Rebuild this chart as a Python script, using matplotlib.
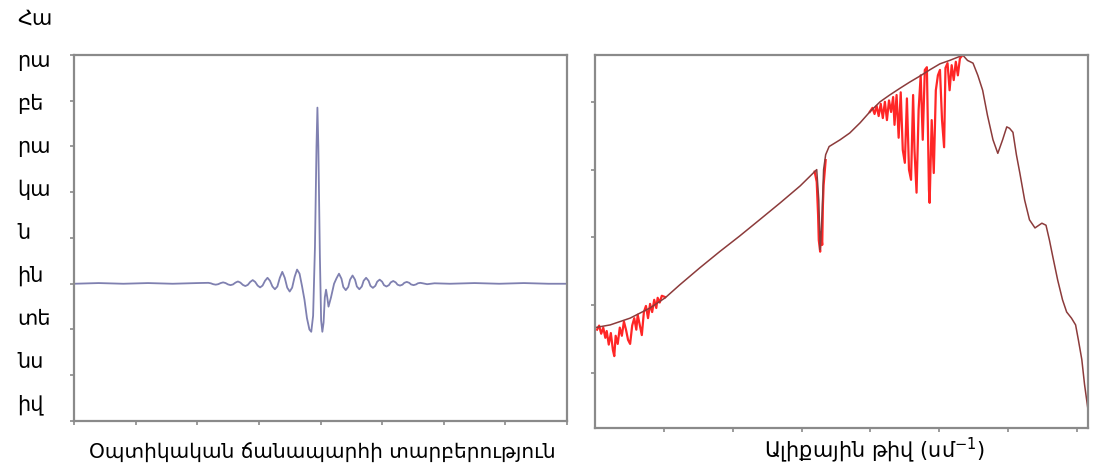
import matplotlib
matplotlib.use("Agg")
import matplotlib.pyplot as plt

plt.rcParams['font.family'] = ['DejaVu Sans']

# ---- Left panel: interferogram ----
interf_x = [0, 0.4, 0.8, 1.2, 1.6, 2.0,
            2.18, 2.22, 2.26, 2.30, 2.34, 2.38, 2.42, 2.46, 2.50, 2.54, 2.58, 2.62, 2.66, 2.70,
            2.74, 2.78, 2.82, 2.86, 2.90, 2.94, 2.98, 3.02, 3.06, 3.10, 3.14, 3.18, 3.22, 3.26,
            3.30, 3.34, 3.38, 3.42, 3.46, 3.50, 3.54, 3.58, 3.62,
            3.66, 3.70, 3.74, 3.78, 3.82, 3.85, 3.88, 3.91, 3.935, 3.95, 3.965, 3.99, 4.01, 4.03,
            4.05, 4.07, 4.09, 4.11, 4.13,
            4.17, 4.22, 4.26, 4.30, 4.34, 4.37, 4.41, 4.45, 4.48, 4.52, 4.56, 4.59, 4.63, 4.67,
            4.70, 4.74, 4.78, 4.81, 4.85, 4.89, 4.92, 4.96, 5.00, 5.03, 5.07, 5.11, 5.14, 5.18,
            5.22, 5.25, 5.29, 5.33, 5.36, 5.40, 5.44, 5.47, 5.51, 5.55, 5.58, 5.62, 5.66, 5.73,
            5.85, 6.1, 6.5, 6.9, 7.3, 7.7, 8.0]
interf_y = [0, 0.015, 0, 0.015, 0, 0.015,
            0.02, 0.01, -0.01, -0.02, -0.01, 0.015, 0.03, 0.015, -0.015, -0.03, -0.015, 0.025, 0.05, 0.025,
            -0.025, -0.05, -0.025, 0.04, 0.08, 0.04, -0.04, -0.08, -0.04, 0.065, 0.13, 0.065, -0.06, -0.12,
            -0.06, 0.13, 0.26, 0.13, -0.085, -0.17, -0.085, 0.15, 0.31,
            0.22, -0.05, -0.35, -0.75, -1.0, -1.05, -0.7, 0.8, 3.0, 3.85, 3.0, 0.6, -0.8, -1.05,
            -0.85, -0.3, -0.13, -0.3, -0.50,
            -0.30, 0.0, 0.12, 0.22, 0.11, -0.07, -0.14, -0.07, 0.09, 0.18, 0.09, -0.06, -0.12, -0.06,
            0.065, 0.13, 0.065, -0.045, -0.09, -0.045, 0.045, 0.09, 0.045, -0.03, -0.06, -0.03, 0.03, 0.06,
            0.03, -0.02, -0.04, -0.02, 0.02, 0.04, 0.02, -0.015, -0.03, -0.015, 0.01, 0.02, 0.01, -0.01,
            0.01, 0, 0.015, 0, 0.015, 0, 0]

# ---- Right panel: spectrum (smooth envelope) ----
spec_x = [0, 0.22, 0.51, 0.80, 1.02, 1.23, 1.52, 1.81, 2.10, 2.39, 2.69, 2.98, 3.19, 3.22, 3.25,
          3.27, 3.28, 3.30, 3.32, 3.35, 3.40, 3.56, 3.70, 3.85, 3.99, 4.14, 4.28, 4.43, 4.57, 4.72,
          4.86, 5.01, 5.15, 5.30, 5.34, 5.41, 5.49, 5.56, 5.63, 5.70, 5.78, 5.85, 5.92, 5.98, 6.02,
          6.07, 6.12, 6.17, 6.24, 6.31, 6.39, 6.49, 6.55, 6.60, 6.65, 6.72, 6.79, 6.85, 6.92, 6.98,
          7.02, 7.07, 7.11, 7.16]
spec_y = [0.67, 0.71, 0.81, 0.96, 1.11, 1.30, 1.55, 1.79, 2.02, 2.26, 2.51, 2.76, 2.97, 3.00, 2.55,
          1.82, 1.96, 2.40, 3.00, 3.22, 3.34, 3.44, 3.54, 3.69, 3.85, 4.00, 4.10, 4.20, 4.29, 4.38,
          4.47, 4.56, 4.61, 4.67, 4.69, 4.61, 4.57, 4.39, 4.17, 3.80, 3.44, 3.24, 3.44, 3.63, 3.61,
          3.55, 3.22, 2.95, 2.55, 2.26, 2.14, 2.21, 2.18, 1.96, 1.71, 1.37, 1.08, 0.90, 0.81, 0.71,
          0.49, 0.20, -0.17, -0.54]

# ---- Right panel: absorption-line regions (red) ----
band1_x = [0.03, 0.06, 0.09, 0.12, 0.15, 0.17, 0.20, 0.23, 0.26, 0.28, 0.30, 0.33, 0.36, 0.39, 0.42,
           0.45, 0.48, 0.51, 0.54, 0.57, 0.60, 0.62, 0.65, 0.68, 0.71, 0.74, 0.77, 0.80, 0.83, 0.86,
           0.89, 0.91, 0.94, 0.97, 1.02]
band1_y = [0.64, 0.70, 0.58, 0.67, 0.52, 0.62, 0.42, 0.59, 0.34, 0.25, 0.55, 0.43, 0.67, 0.55, 0.76,
           0.64, 0.49, 0.43, 0.70, 0.81, 0.64, 0.86, 0.71, 0.56, 0.90, 0.99, 0.81, 1.02, 0.90, 1.08,
           0.96, 1.11, 1.04, 1.14, 1.12]

band2_x = [3.19, 3.22, 3.24, 3.25, 3.27, 3.28, 3.30, 3.31, 3.32, 3.35]
band2_y = [2.97, 2.82, 2.33, 1.96, 1.79, 2.08, 1.89, 2.48, 2.77, 3.14]

band3_x = [3.99, 4.03, 4.06, 4.09, 4.12, 4.15, 4.18, 4.21, 4.24, 4.27, 4.30, 4.33, 4.35, 4.38, 4.41,
           4.44, 4.47, 4.50, 4.53, 4.56, 4.59, 4.62, 4.64, 4.67, 4.70, 4.73, 4.76, 4.79, 4.82, 4.85,
           4.86, 4.89, 4.92, 4.95, 4.98, 5.01, 5.04, 5.07, 5.09, 5.12, 5.15, 5.18, 5.21, 5.24, 5.27,
           5.30, 5.34]
band3_y = [3.85, 3.91, 3.82, 3.94, 3.79, 3.97, 3.76, 4.00, 3.73, 4.02, 3.85, 4.07, 3.66, 4.10, 3.47,
           4.14, 3.29, 3.10, 4.05, 3.00, 2.85, 4.10, 3.29, 2.66, 3.88, 4.39, 3.44, 4.47, 4.51, 2.70,
           2.51, 3.73, 2.95, 4.17, 4.39, 4.47, 3.73, 3.33, 4.50, 4.57, 4.17, 4.54, 4.32, 4.59, 4.39,
           4.64, 4.69]

ylabel_chunks = ["Հա", "րա", "բե", "րա", "կա", "ն", "ին", "տե", "նս", "իվ"]
xlabel_left = "Օպտիկական ճանապարհի տարբերություն"
xlabel_right = "Ալիքային թիվ (սմ$^{\\mathit{-1}}$)"

W, H = 1093, 473
fig = plt.figure(figsize=(W / 100, H / 100), dpi=100)

spine_col = "#8a8a8a"

def style(ax):
    for s in ax.spines.values():
        s.set_color(spine_col)
        s.set_linewidth(1.6)
    ax.tick_params(axis='both', which='both', direction='out', length=3, width=1.2,
                   color=spine_col, labelleft=False, labelbottom=False)
    ax.tick_params(top=False, right=False)

axL = fig.add_axes([74 / W, 1 - 421 / H, 493 / W, 366 / H])
axL.plot(interf_x, interf_y, color="#7f80b0", lw=1.3)
axL.set_xlim(0, 8)
axL.set_ylim(-3, 5)
axL.set_xticks(range(0, 9))
axL.set_yticks(range(-3, 6))
style(axL)

axR = fig.add_axes([595 / W, 1 - 428 / H, 493 / W, 373 / H])
for bx, by in [(band1_x, band1_y), (band2_x, band2_y), (band3_x, band3_y)]:
    axR.plot(bx, by, color="#ff1a1a", lw=1.6, alpha=0.95)
axR.plot(spec_x, spec_y, color="#8c3b3b", lw=1.1)
axR.set_xlim(0, 7.16)
axR.set_ylim(-0.81, 4.69)
axR.set_xticks(range(1, 8))
axR.set_yticks(range(0, 5))
style(axR)

for i, t in enumerate(ylabel_chunks):
    fig.text(17 / W, 1 - (18 + i * 43.0) / H, t, ha='left', va='center', fontsize=15, color='black')

fig.text(322 / W, 1 - 453 / H, xlabel_left, ha='center', va='center', fontsize=14.5, color='black')
fig.text(875 / W, 1 - 450 / H, xlabel_right, ha='center', va='center', fontsize=15, color='black')

fig.savefig("out.png", dpi=100, facecolor='white')
